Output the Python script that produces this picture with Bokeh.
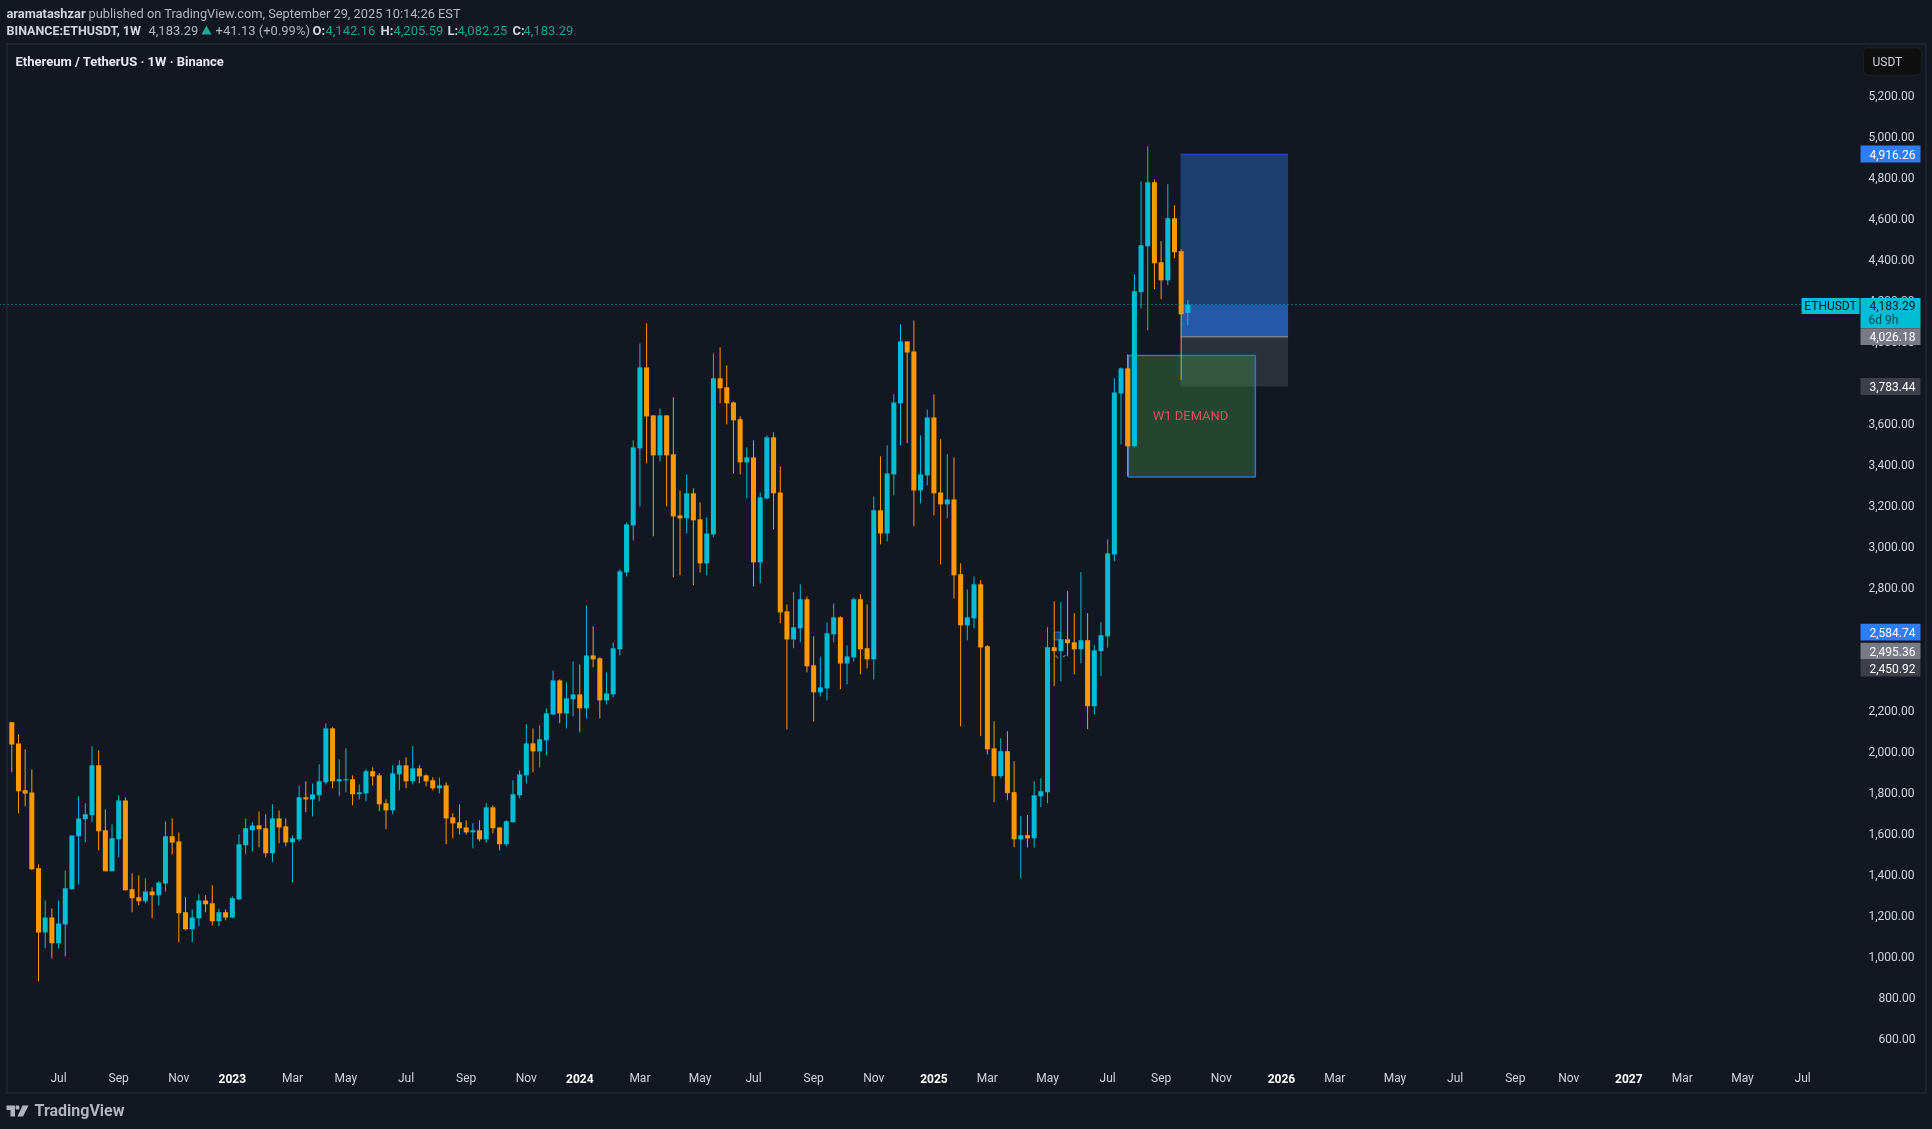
from bokeh.core.properties import value
from bokeh.embed import file_html
from bokeh.models import BoxAnnotation, ColumnDataSource, FixedTicker, Label, NumeralTickFormatter, PolyAnnotation, Range1d
from bokeh.plotting import figure
from bokeh.resources import INLINE

# weekly candles
opens = [
    2145,2042,1813,1803,1433,1120,1193,1067,1159,1330,
    1589,1672,1691,1935,1618,1418,1574,1764,1330,1291,
    1272,1320,1301,1359,1589,1564,1218,1135,1189,1276,
    1262,1174,1218,1193,1281,1545,1618,1642,1628,1506,
    1676,1637,1559,1574,1779,1769,1789,1852,2115,1857,
    1862,1867,1794,1798,1906,1886,1750,1715,1891,1935,
    1857,1920,1886,1862,1823,1837,1681,1657,1632,1608,
    1618,1574,1730,1632,1550,1657,1789,1886,2042,2003,
    2057,2183,2349,2188,2257,2281,2213,2471,2457,2252,
    2281,2501,2876,3105,3481,3876,3642,3447,3642,3452,
    3154,3140,3262,3135,2920,3061,3823,3779,3705,3623,
    3413,3437,2925,3237,3535,3266,2686,2549,2603,2745,
    2423,2291,2310,2574,2657,2432,2462,2745,2506,2452,
    3179,3066,3354,3701,4003,3954,3276,3349,3632,3266,
    3208,3232,2867,2618,2652,2818,2516,2018,1882,2004,
    1804,1574,1594,1579,1784,1804,2511,2492,2550,2535,
    2501,2545,2223,2492,2564,2964,3749,3871,3491,4243,
    4467,4779,4389,4301,4604,4443,4142.16,
]
highs = [
    2145,2086,2013,1915,1452,1276,1237,1276,1423,1593,
    1784,1750,2028,2008,1720,1647,1789,1779,1408,1398,
    1384,1340,1369,1662,1676,1608,1291,1232,1306,1301,
    1350,1237,1232,1296,1598,1676,1657,1710,1696,1745,
    1715,1676,1593,1837,1857,1847,1940,2140,2120,1964,
    2018,1886,1842,1915,1925,1896,1769,1935,1959,1974,
    2028,1935,1891,1876,1876,1852,1701,1745,1667,1652,
    1667,1750,1740,1632,1667,1862,1910,2135,2115,2130,
    2213,2398,2354,2340,2442,2427,2715,2613,2462,2388,
    2535,2891,3120,3520,3993,4091,3642,3676,3642,3730,
    3276,3354,3286,3218,3145,3944,3974,3886,3710,3637,
    3486,3520,3266,3544,3559,3393,2720,2779,2818,2759,
    2564,2462,2632,2725,2662,2520,2754,2769,2720,3247,
    3442,3496,3745,4086,4003,4105,3544,3671,3745,3525,
    3452,3437,2920,2793,2857,2838,2521,2150,2067,2101,
    1955,1687,1692,1857,1872,2609,2735,2731,2784,2677,
    2877,2677,2521,2633,3037,3823,3876,3940,4331,4784,
    4955,4794,4492,4770,4667,4453,4205.59,
]
lows = [
    1901,1701,1735,1423,881,1042,993,1042,1003,1330,
    1354,1559,1657,1520,1418,1418,1486,1325,1218,1252,
    1262,1189,1252,1320,1501,1072,1130,1072,1150,1218,
    1154,1150,1179,1189,1281,1501,1515,1535,1486,1462,
    1554,1540,1364,1564,1706,1686,1759,1842,1823,1784,
    1803,1740,1769,1759,1837,1711,1623,1696,1813,1823,
    1842,1847,1832,1813,1798,1550,1579,1598,1598,1530,
    1564,1559,1603,1520,1540,1657,1774,1847,1901,1925,
    1984,2183,2140,2115,2174,2096,2164,2413,2164,2232,
    2267,2471,2857,3032,3198,3408,3052,3418,3198,2852,
    2862,3066,2813,2876,2862,3047,3701,3598,3359,3354,
    3237,2808,2822,3232,3086,2628,2110,2506,2535,2388,
    2149,2271,2252,2535,2306,2330,2442,2379,2408,2354,
    3013,3027,3252,3496,3506,3101,3213,3301,3154,2915,
    3140,2749,2125,2544,2603,2077,1989,1755,1872,1765,
    1535,1384,1535,1535,1731,1750,2321,2345,2467,2379,
    2433,2111,2184,2370,2510,2930,3501,3345,3485,4165,
    4057,4257,4209,4277,4409,3814,4082.25,
]
closes = [
    2037,1808,1798,1428,1120,1193,1067,1164,1335,1593,
    1676,1696,1935,1613,1418,1579,1764,1325,1286,1272,
    1320,1301,1364,1589,1559,1213,1135,1193,1276,1257,
    1174,1218,1193,1286,1550,1628,1642,1623,1506,1676,
    1632,1559,1579,1779,1769,1793,1857,2115,1857,1867,
    1867,1794,1803,1906,1881,1745,1715,1896,1935,1857,
    1920,1881,1857,1823,1837,1676,1652,1628,1608,1618,
    1574,1730,1628,1550,1662,1794,1891,2042,2003,2062,
    2189,2349,2188,2262,2281,2213,2471,2452,2252,2286,
    2506,2881,3110,3486,3876,3637,3447,3642,3447,3149,
    3140,3262,3130,2920,3066,3823,3774,3701,3618,3413,
    3437,2925,3242,3535,3262,2681,2549,2608,2745,2418,
    2291,2315,2579,2657,2432,2466,2745,2501,2452,3179,
    3066,3359,3705,4003,3949,3276,3354,3632,3262,3208,
    3232,2862,2618,2657,2818,2510,2013,1882,2004,1799,
    1574,1594,1579,1789,1809,2511,2492,2550,2531,2501,
    2545,2223,2496,2570,2969,3754,3871,3491,4248,4472,
    4779,4384,4301,4604,4438,4135,4183.29,
]

price_ticks = [600, 800, 1000, 1200, 1400, 1600, 1800, 2000, 2200, 2400, 2600, 2800, 3000,
               3200, 3400, 3600, 3800, 4000, 4200, 4400, 4600, 4800, 5000, 5200]
month_ticks = {7: "Jul", 16: "Sep", 25: "Nov", 42: "Mar", 50: "May", 59: "Jul", 68: "Sep", 77: "Nov",
               94: "Mar", 103: "May", 111: "Jul", 120: "Sep", 129: "Nov", 146: "Mar", 155: "May",
               164: "Jul", 172: "Sep", 181: "Nov", 198: "Mar", 207: "May", 216: "Jul", 225: "Sep",
               233: "Nov", 250: "Mar", 259: "May", 268: "Jul"}
year_ticks = {33: "2023", 85: "2024", 138: "2025", 190: "2026", 242: "2027"}

# drawings
target_price = 4916.26
entry_price = 4026.18
stop_price = 3783.44
last_price = closes[-1]
demand_top = 3934
demand_bottom = 3341
small_target = 2584.74
small_entry = 2547
# price, background, where the scale shows the tag (tags get pushed apart)
level_labels = [(4916.26, "#2e7cf6", 4917), (4026.18, "#787b86", 4026), (3783.44, "#3d3f4a", 3783),
                (2584.74, "#2e7cf6", 2585), (2495.36, "#787b86", 2492), (2450.92, "#3d3f4a", 2409)]
# little grey leftovers of the arrow drawings: x0, x1, y0, y1
mark_x0 = [156.2, 157.3, 175.15]
mark_x1 = [156.6, 157.7, 175.4]
mark_y0 = [2471, 2462, 4096]
mark_y1 = [2458, 2473, 4080]

BG = "#131722"
UP = "#00bcd4"
DOWN = "#ff9800"
FONT = "Roboto"
W = 1932
H = 1129
# the svg canvas sits half a pixel in, so the figure is pulled one pixel out of the window
OFF = 1

# the frame fills the whole canvas, annotations outside of it get clipped
p = figure(width=W + OFF, height=H + OFF, output_backend="svg", toolbar_location=None,
           x_range=Range1d(-1.84, 287.44), y_range=Range1d(158.5, 5670.8),
           y_axis_location="right",
           min_border=0,
           background_fill_color=BG, border_fill_color=BG,
           styles={"position": "fixed", "left": "-1px", "top": "-1px"})
p.grid.visible = False
p.outline_line_color = None

p.yaxis.ticker = FixedTicker(ticks=price_ticks)
p.yaxis.formatter = NumeralTickFormatter(format="0,0.00")
# labels stay left aligned on an axis, pad the short ones
p.yaxis.major_label_overrides = {600: "\u2007\u2008600.00", 800: "\u2007\u2008800.00"}
p.yaxis.axis_line_color = None
p.yaxis.major_tick_line_color = None
p.yaxis.minor_tick_line_color = None
p.yaxis.major_label_standoff = -70
p.yaxis.major_label_text_color = "#d1d4dc"
p.yaxis.major_label_text_font = FONT
p.yaxis.major_label_text_font_size = "12px"

p.xaxis.ticker = FixedTicker(ticks=list(month_ticks))
p.xaxis.major_label_overrides = month_ticks
p.xaxis.axis_line_color = None
p.xaxis.major_tick_line_color = None
p.xaxis.minor_tick_line_color = None
p.xaxis.major_label_standoff = -65
p.xaxis.major_label_text_color = "#d1d4dc"
p.xaxis.major_label_text_font = FONT
p.xaxis.major_label_text_font_size = "12px"

# position tool and demand zone go under the candles
x0 = 174.9
x1 = 191.0
p.quad(left=[x0], right=[x1], top=[target_price], bottom=[last_price], fill_color="#1d3f70", line_color=None)
p.quad(left=[x0], right=[x1], top=[last_price], bottom=[entry_price], fill_color="#2558a9", line_color=None)
p.quad(left=[x0], right=[x1], top=[entry_price], bottom=[stop_price], fill_color="#787b86", fill_alpha=0.25, line_color=None)
p.segment(x0=[x0], x1=[x1], y0=[target_price], y1=[target_price], line_color="#2962ff", line_alpha=0.7, line_width=1)
p.segment(x0=[x0], x1=[x1], y0=[entry_price], y1=[entry_price], line_color="#787b86", line_width=1.5)
p.quad(left=[167.1], right=[186.1], top=[demand_top], bottom=[demand_bottom],
       fill_color="#4caf50", fill_alpha=0.3, line_color="#2f6fd8", line_width=1.5)
p.text(x=[176.4], y=[3641], text=["W1 DEMAND"], text_color="#e0505f", text_align="center",
       text_baseline="middle", text_font=value(FONT), text_font_size="13px")

# the tiny position drawing near the spring 2025 candles
p.quad(left=[156.0], right=[156.9], top=[small_target], bottom=[small_entry],
       fill_color="#1d3f70", line_color="#2f6fd8", line_width=1)
p.segment(x0=mark_x0, x1=mark_x1, y0=mark_y0, y1=mark_y1, line_color="#5a5d68", line_width=1.5)

idx = list(range(len(opens)))
source = ColumnDataSource(data=dict(
    x=idx, o=opens, h=highs, l=lows, c=closes,
    top=[max(a, b) for a, b in zip(opens, closes)],
    bottom=[min(a, b) for a, b in zip(opens, closes)],
    color=[UP if b >= a else DOWN for a, b in zip(opens, closes)],
))
p.segment(x0="x", x1="x", y0="l", y1="h", line_color="color", line_width=1, source=source)
p.vbar(x="x", width=0.75, top="top", bottom="bottom", fill_color="color", line_color=None, source=source)

# dotted price line stops at the ETHUSDT tag
p.segment(x0=[-1.84], x1=[267.8], y0=[last_price], y1=[last_price], line_color=UP, line_width=1, line_dash="1 3")


def canvas_text(x, y, text, color="#d1d4dc", size="13px", style="normal", align="left"):
    p.add_layout(Label(x=x + OFF, y=y + OFF, x_units="canvas", y_units="canvas", text=text, text_color=color,
                       text_font=FONT, text_font_size=size, text_font_style=style,
                       text_align=align, text_baseline="middle"))


def canvas_box(left, right, top, bottom, fill, line=None, radius=0):
    p.add_layout(BoxAnnotation(left=left + OFF, right=right + OFF, top=top + OFF, bottom=bottom + OFF,
                               left_units="canvas", right_units="canvas", top_units="canvas", bottom_units="canvas",
                               fill_color=fill, fill_alpha=1, line_color=line, line_width=1,
                               border_radius=radius))


def canvas_poly(xs, ys, color):
    p.add_layout(PolyAnnotation(xs=[v + OFF for v in xs], ys=[v + OFF for v in ys], xs_units="canvas", ys_units="canvas",
                                fill_color=color, fill_alpha=1, line_color=None))


# year labels are brighter than the month labels
for tick, label in year_ticks.items():
    p.add_layout(Label(x=tick, y=1078 + OFF, x_units="data", y_units="canvas", text=label, text_color="#ffffff",
                       text_font=FONT, text_font_size="12px", text_font_style="bold",
                       text_align="center", text_baseline="middle"))

# price tags on the scale
for price, fill, shown in level_labels:
    p.add_layout(BoxAnnotation(left=1860 + OFF, right=1920 + OFF, top=shown + 41, bottom=shown - 41,
                               left_units="canvas", right_units="canvas",
                               fill_color=fill, fill_alpha=1, line_color=None))
    p.add_layout(Label(x=1915 + OFF, y=shown, x_units="canvas", y_units="data", text=f"{price:,.2f}",
                       text_color="#ffffff", text_font=FONT, text_font_size="12px",
                       text_align="right", text_baseline="middle"))

canvas_box(1801, 1859, 297.5, 313.5, UP)
canvas_box(1860, 1920, 297.5, 327.5, UP)
canvas_text(1830, 305, "ETHUSDT", color=BG, size="12px", align="center")
canvas_text(1915, 305, f"{last_price:,.2f}", color=BG, size="12px", align="right")
canvas_text(1868, 319, "6d 9h", color="#0b4a55", size="12px")

# frame, four thin bars
frame_color = "#2a2e39"
canvas_box(6, 1926, 43, 44, frame_color)
canvas_box(6, 1926, 1092, 1093, frame_color)
canvas_box(6, 7, 43, 1093, frame_color)
canvas_box(1925, 1926, 43, 1093, frame_color)

canvas_box(1863, 1921, 47.5, 74.5, "#0f0f0f", line="#363a45", radius=5)
canvas_text(1872, 61, "USDT", size="12px")

# header
canvas_text(6, 13, "aramatashzar", color="#d1d4dc", style="bold", size="12.8px")
canvas_text(88, 13, "published on TradingView.com, September 29, 2025 10:14:26 EST", color="#b2b5be", size="12.8px")
canvas_text(6, 30, "BINANCE:ETHUSDT, 1W", color="#d1d4dc", style="bold", size="12.5px")
canvas_text(148, 30, "4,183.29", color="#b2b5be", size="13px")
canvas_poly([201, 206, 211], [34, 25, 34], "#22ab94")
canvas_text(215, 30, "+41.13 (+0.99%)", color="#b2b5be", size="13px")
for lx, vx, letter, val in [(312, 325, "O:", opens[-1]), (380, 393, "H:", highs[-1]),
                            (447, 457, "L:", lows[-1]), (512, 523, "C:", closes[-1])]:
    canvas_text(lx, 30, letter, color="#d1d4dc", style="bold", size="13px")
    canvas_text(vx, 30, f"{val:,.2f}", color="#1f9d8c", size="13px")
canvas_text(15, 61, "Ethereum / TetherUS \u00b7 1W \u00b7 Binance", color="#e8eaf0", style="bold", size="13px")

# logo
logo_color = "#b2b5be"
canvas_poly([6, 14.5, 14.5, 10, 10, 6], [1105, 1105, 1116, 1116, 1109.5, 1109.5], logo_color)
canvas_poly([15.5, 18.5, 19, 18.5, 15.5, 15], [1105, 1105, 1107, 1109, 1109, 1107], logo_color)
canvas_poly([22, 28, 22.5, 17], [1105, 1105, 1116, 1116], logo_color)
canvas_text(34, 1109.5, "TradingView", color=logo_color, size="16px", style="bold")

open("out.html", "w").write(file_html(p, INLINE))
